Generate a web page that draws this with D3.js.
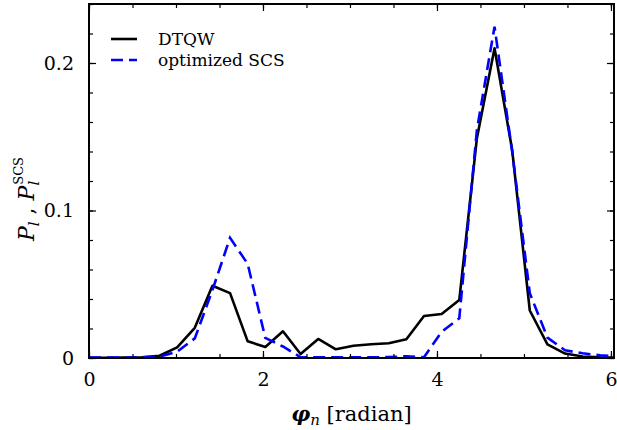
<!DOCTYPE html>
<html lang="en">
    <head>
        <meta charset="utf-8">
        <title>DTQW vs optimized SCS</title>
        <script type="text/javascript" src="https://cdn.jsdelivr.net/npm/d3@7"></script>
        <style type="text/css">
          body { margin: 0; background: #fff; }
          svg text { font-family: "DejaVu Serif", serif; fill: #000; }
        </style>
    </head>
    <body>
        <script type="text/javascript">

          var w = 617;
          var h = 430;
          var margin = {top: 4, right: 3, bottom: 72, left: 89},
              width = w - margin.left - margin.right,
              height = h - margin.top - margin.bottom;
          var serif = "'DejaVu Serif', serif";

          // phi_n = 2*pi*n/31, n = 0..30
          var nIndex = d3.range(31);
          var dtqw = [0.0002, 0.0002, 0.0003, 0.0005, 0.0015, 0.0072, 0.0205, 0.0490, 0.0440, 0.0113, 0.0075,
                      0.0181, 0.0027, 0.0129, 0.0059, 0.0083, 0.0093, 0.0100, 0.0127, 0.0285, 0.0298,
                      0.0393, 0.1490, 0.2100, 0.1410, 0.0322, 0.0092, 0.0030, 0.0010, 0.0004, 0.0002];
          var scs  = [0.0003, 0.0003, 0.0003, 0.0004, 0.0010, 0.0043, 0.0133, 0.0460, 0.0815, 0.0638, 0.0136,
                      0.0078, 0.0005, 0.0004, 0.0004, 0.0004, 0.0005, 0.0006, 0.0012, 0.0005, 0.0178,
                      0.0269, 0.1546, 0.2246, 0.1400, 0.0439, 0.0138, 0.0052, 0.0032, 0.0018, 0.0012];
          var xTicks = [0, 2, 4, 6];
          var yTicks = [0, 0.1, 0.2];

          var phi = nIndex.map(n => 2 * Math.PI * n / 31);

          var svg = d3.select("body")
                      .append("svg")
                      .attr("width", w)
                      .attr("height", h);

          var xScale = d3.scaleLinear()
                         .domain([0, 6.035])
                         .range([margin.left, margin.left + width]);

          var yScale = d3.scaleLinear()
                         .domain([0, 0.24])
                         .range([margin.top + height, margin.top]);

          svg.append("clipPath")
             .attr("id", "clip")
             .append("rect")
             .attr("x", margin.left)
             .attr("y", margin.top)
             .attr("width", width)
             .attr("height", height);

          var line = d3.line()
                       .x((d, i) => xScale(phi[i]))
                       .y(d => yScale(d));

          var plot = svg.append("g").attr("clip-path", "url(#clip)");

          plot.append("path")
              .datum(dtqw)
              .attr("fill", "none")
              .attr("stroke", "#000")
              .attr("stroke-width", 2.6)
              .attr("stroke-linejoin", "round")
              .attr("d", line);

          plot.append("path")
              .datum(scs)
              .attr("fill", "none")
              .attr("stroke", "#0000ff")
              .attr("stroke-width", 2.6)
              .attr("stroke-dasharray", "12,6")
              .attr("d", line);

          // ticks pointing inward on all four sides
          var xMinor = d3.range(0, 6.01, 0.5);
          var yMinor = d3.range(0, 0.2401, 0.02);

          svg.append("g")
             .attr("transform", "translate(0," + (margin.top + height) + ")")
             .call(d3.axisBottom(xScale).tickValues(xMinor).tickSize(-4).tickFormat("").tickSizeOuter(0));
          svg.append("g")
             .attr("transform", "translate(0," + (margin.top + height) + ")")
             .call(d3.axisBottom(xScale).tickValues(xTicks).tickSize(-7).tickPadding(15).tickSizeOuter(0)
                   .tickFormat(d3.format("d")))
             .selectAll("text").attr("dy", "0.71em");
          svg.append("g")
             .attr("transform", "translate(0," + margin.top + ")")
             .call(d3.axisTop(xScale).tickValues(xMinor).tickSize(-4).tickFormat("").tickSizeOuter(0));
          svg.append("g")
             .attr("transform", "translate(0," + margin.top + ")")
             .call(d3.axisTop(xScale).tickValues(xTicks).tickSize(-7).tickFormat("").tickSizeOuter(0));

          svg.append("g")
             .attr("transform", "translate(" + margin.left + ",0)")
             .call(d3.axisLeft(yScale).tickValues(yMinor).tickSize(-4).tickFormat("").tickSizeOuter(0));
          svg.append("g")
             .attr("transform", "translate(" + margin.left + ",0)")
             .call(d3.axisLeft(yScale).tickValues(yTicks).tickSize(-7).tickPadding(15).tickSizeOuter(0)
                   .tickFormat(d => d === 0 ? "0" : d3.format(".1f")(d)));
          svg.append("g")
             .attr("transform", "translate(" + (margin.left + width) + ",0)")
             .call(d3.axisRight(yScale).tickValues(yMinor).tickSize(-4).tickFormat("").tickSizeOuter(0));
          svg.append("g")
             .attr("transform", "translate(" + (margin.left + width) + ",0)")
             .call(d3.axisRight(yScale).tickValues(yTicks).tickSize(-7).tickFormat("").tickSizeOuter(0));

          svg.selectAll("g").attr("font-family", null);
          svg.selectAll(".tick line").attr("stroke", "#000").attr("stroke-width", 1.2);
          svg.selectAll(".domain").remove();
          svg.selectAll(".tick text")
             .attr("font-family", serif)
             .attr("font-size", 19)
             .attr("fill", "#000");

          // frame
          svg.append("rect")
             .attr("x", margin.left)
             .attr("y", margin.top)
             .attr("width", width)
             .attr("height", height)
             .attr("fill", "none")
             .attr("stroke", "#000")
             .attr("stroke-width", 2);

          // legend
          var legend = svg.append("g").attr("font-family", serif);
          legend.append("line")
                .attr("x1", 111).attr("x2", 137).attr("y1", 39).attr("y2", 39)
                .attr("stroke", "#000").attr("stroke-width", 2.6);
          legend.append("line")
                .attr("x1", 111).attr("x2", 137).attr("y1", 60).attr("y2", 60)
                .attr("stroke", "#0000ff").attr("stroke-width", 2.6)
                .attr("stroke-dasharray", "12,6");
          legend.append("text")
                .attr("x", 158).attr("y", 45)
                .attr("font-size", 17)
                .text("DTQW");
          legend.append("text")
                .attr("x", 158).attr("y", 66)
                .attr("font-size", 17)
                .text("optimized SCS");

          // axis labels
          var xl = svg.append("text")
             .attr("x", margin.left + width / 2)
             .attr("y", h - 9)
             .attr("text-anchor", "middle")
             .attr("font-family", serif)
             .attr("font-size", 21);
          xl.append("tspan").style("font-style", "italic").style("font-weight", "bold").text("φ");
          xl.append("tspan").style("font-style", "italic").attr("font-size", 15).attr("dy", 4).text("n");
          xl.append("tspan").attr("dy", -4).text(" [radian]");

          var yl = svg.append("text")
             .attr("transform", "translate(34," + (margin.top + height / 2 + 18) + ") rotate(-90)")
             .attr("text-anchor", "middle")
             .attr("font-family", serif)
             .attr("font-size", 22);
          yl.append("tspan").style("font-style", "italic").text("P");
          yl.append("tspan").style("font-style", "italic").attr("font-size", 15).attr("dy", 5).text("l");
          yl.append("tspan").attr("dy", -5).text(" , ");
          yl.append("tspan").style("font-style", "italic").text("P");
          yl.append("tspan").style("font-style", "italic").attr("font-size", 15).attr("dy", 5).text("l");
          yl.append("tspan").attr("font-size", 13).attr("dy", -16).attr("dx", -4).text("SCS");

        </script>
    </body>
</html>
